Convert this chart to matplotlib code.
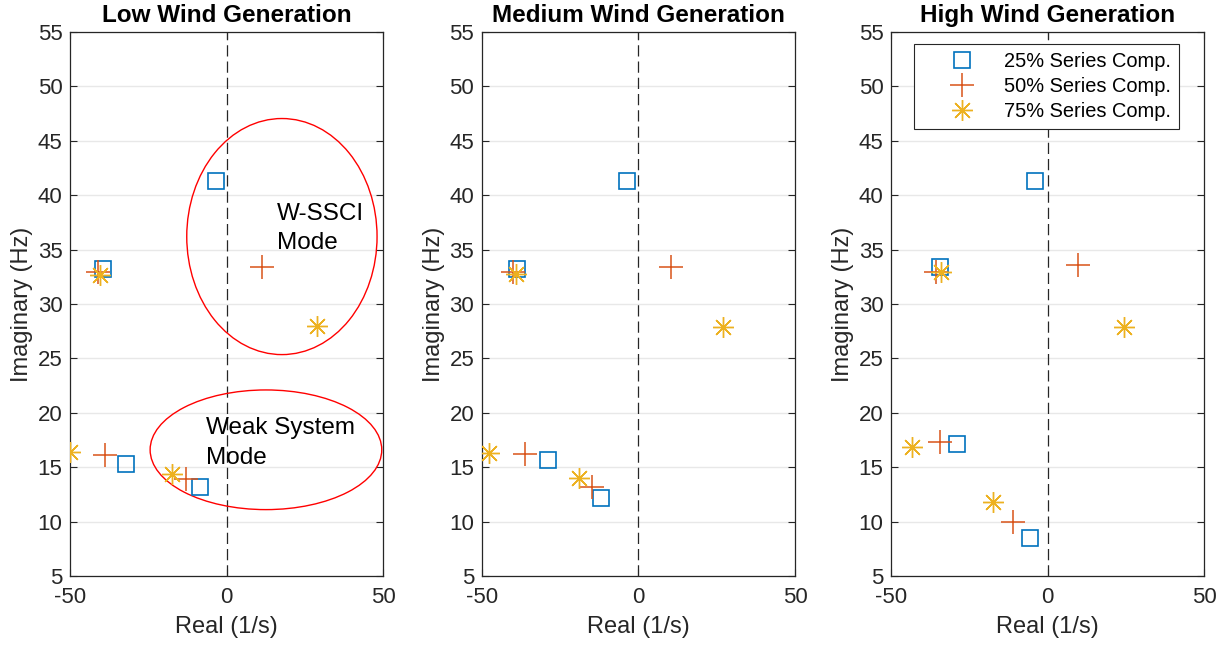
import numpy as np
import matplotlib.pyplot as plt
from matplotlib.patches import Ellipse

plt.rcParams['font.family'] = ['Liberation Sans', 'DejaVu Sans']
plt.rcParams['axes.unicode_minus'] = False

titles = ["Low Wind Generation", "Medium Wind Generation", "High Wind Generation"]
labels = ["25% Series Comp.", "50% Series Comp.", "75% Series Comp."]

# eigenvalues (real part, imaginary part) per wind level and compensation level
low_25_re = [-3.4, -39.5, -32.1, -8.5]
low_25_im = [41.3, 33.2, 15.3, 13.2]
low_50_re = [-41.0, 11.3, -38.8, -12.9]
low_50_im = [32.9, 33.4, 16.1, 13.9]
low_75_re = [-40.4, 28.9, -50.0, -17.4]
low_75_im = [32.7, 28.0, 16.4, 14.4]

med_25_re = [-3.7, -38.7, -28.8, -11.9]
med_25_im = [41.3, 33.2, 15.7, 12.2]
med_50_re = [-40.0, 10.3, -36.2, -14.7]
med_50_im = [32.9, 33.4, 16.2, 13.2]
med_75_re = [-39.0, 27.0, -47.8, -19.0]
med_75_im = [32.8, 27.9, 16.3, 14.0]

high_25_re = [-4.0, -34.3, -28.9, -5.6]
high_25_im = [41.3, 33.4, 17.1, 8.5]
high_50_re = [-35.6, 9.7, -34.3, -11.0]
high_50_im = [32.9, 33.6, 17.3, 10.0]
high_75_re = [-34.0, 24.4, -43.3, -17.4]
high_75_im = [32.9, 27.9, 16.9, 11.8]

data = [
    [(low_25_re, low_25_im), (low_50_re, low_50_im), (low_75_re, low_75_im)],
    [(med_25_re, med_25_im), (med_50_re, med_50_im), (med_75_re, med_75_im)],
    [(high_25_re, high_25_im), (high_50_re, high_50_im), (high_75_re, high_75_im)],
]

colors = ['#0072BD', '#D95319', '#EDB120']
markers = ['s', '+', (8, 2, 0)]   # square, plus, 8-spoke asterisk
msizes = [11.5, 17, 15]
mews = [1.2, 1.1, 1.0]

fig = plt.figure(figsize=(12.26, 6.46), dpi=100)
lefts = [0.0571, 0.3931, 0.7268]

for k in range(3):
    ax = fig.add_axes([lefts[k], 0.1084, 0.2553, 0.842])
    ax.axvline(0, color='#262626', linestyle=(0, (9, 4)), linewidth=0.9, zorder=1)
    for j in range(3):
        re, im = data[k][j]
        ax.plot(re, im, linestyle='none', marker=markers[j], markersize=msizes[j],
                markerfacecolor='none', markeredgecolor=colors[j],
                markeredgewidth=mews[j], label=labels[j], zorder=3)
    ax.set_xlim(-50, 50)
    ax.set_ylim(5, 55)
    ax.set_xticks([-50, 0, 50])
    ax.set_yticks(np.arange(5, 56, 5))
    ax.yaxis.grid(True, color='#e8e8e8', linewidth=1.0)
    ax.set_axisbelow(True)
    ax.tick_params(direction='in', top=True, right=True, labelsize=16,
                   length=5, width=0.8, colors='#262626')
    ax.tick_params(axis='x', pad=8)
    ax.tick_params(axis='y', pad=5.5)
    for s in ax.spines.values():
        s.set_color('#262626')
        s.set_linewidth(0.9)
    ax.set_title(titles[k], fontsize=17.5, fontweight='bold', pad=7)
    ax.set_xlabel("Real (1/s)", fontsize=17, color='#262626', labelpad=6)
    ax.set_ylabel("Imaginary (Hz)", fontsize=17, color='#262626', labelpad=3)

    if k == 0:
        ax.add_patch(Ellipse((17.7, 36.2), 60.8, 21.7, angle=0,
                             fill=False, edgecolor='red', linewidth=1.0, zorder=2))
        ax.add_patch(Ellipse((12.6, 16.6), 74.0, 11.0, angle=0,
                             fill=False, edgecolor='red', linewidth=1.0, zorder=2))
        ax.text(16.1, 39.3, "W-SSCI\nMode", fontsize=17.5, va='top', ha='left',
                linespacing=1.45)
        ax.text(-6.5, 19.6, "Weak System\nMode", fontsize=17.5, va='top', ha='left',
                linespacing=1.45)
    if k == 2:
        leg = ax.legend(loc='upper right', bbox_to_anchor=(0.92, 0.978), fontsize=14.4,
                        fancybox=False, edgecolor='#262626', framealpha=1,
                        handlelength=4.0, handletextpad=0.1, borderpad=0.4,
                        labelspacing=0.3, borderaxespad=0)
        leg.get_frame().set_linewidth(0.8)

fig.savefig("out.png", dpi=100)
